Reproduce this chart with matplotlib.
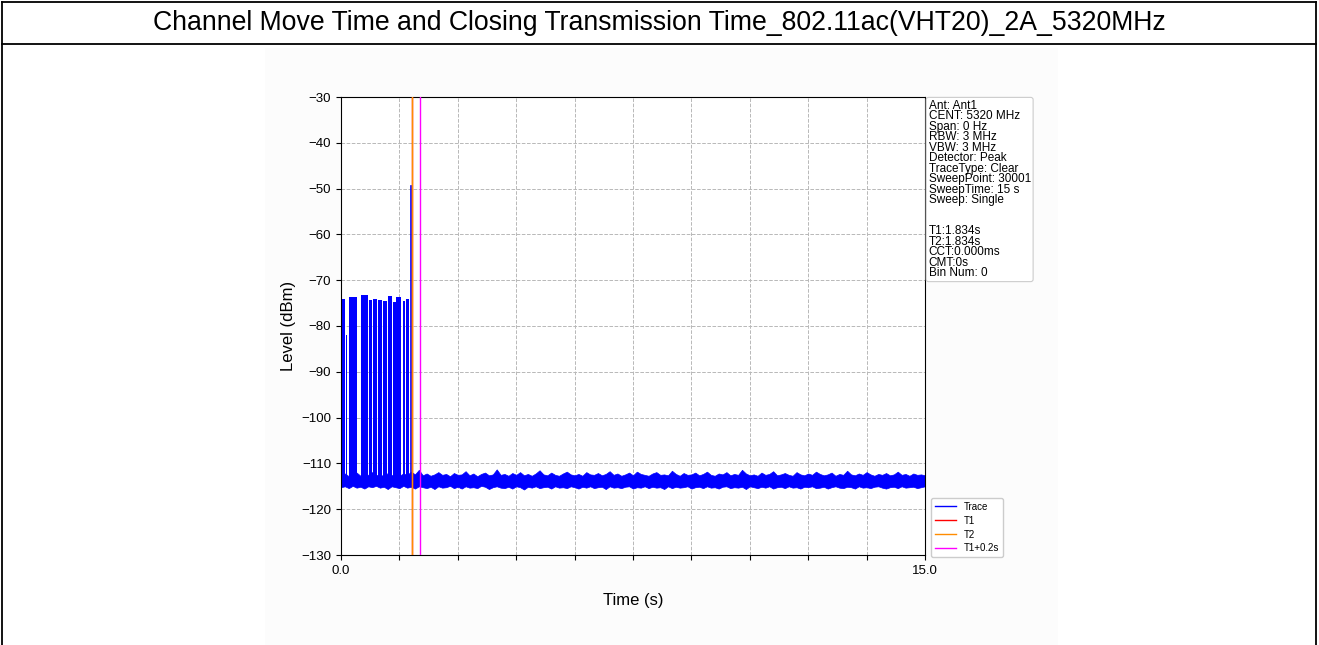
import matplotlib.pyplot as plt
import numpy as np
from matplotlib.lines import Line2D
from matplotlib.patches import Rectangle

plt.rcParams['font.family'] = ['Liberation Sans', 'DejaVu Sans']

title = 'Channel Move Time and Closing Transmission Time_802.11ac(VHT20)_2A_5320MHz'

# burst packets before the channel move (s, dBm)
burst_start = [0.000, 0.128, 0.205, 0.514, 0.732, 0.822, 0.950, 1.079, 1.207, 1.336, 1.425, 1.580, 1.670]
burst_end = [0.110, 0.150, 0.411, 0.693, 0.796, 0.925, 1.053, 1.181, 1.310, 1.400, 1.541, 1.644, 1.747]
burst_top = [-74.0, -82.0, -73.7, -73.2, -74.3, -74.0, -74.4, -74.5, -73.5, -74.8, -73.6, -74.6, -74.0]

# last short burst before T1
spike_t = 1.80
spike_top = -49.5

# noise floor envelope, one sample every 0.1 s
noise_dt = 0.1
noise_high = [
    -112.6, -112.2, -112.8, -112.4, -112.0, -112.7, -112.3, -112.5, -111.9, -112.6,
    -112.4, -112.8, -112.1, -112.6, -112.3, -112.7, -112.2, -112.5, -111.8, -112.4,
    -111.4, -112.6, -112.2, -112.7, -112.4, -111.9, -112.5, -112.3, -112.8, -112.1,
    -112.5, -112.4, -111.7, -112.6, -112.2, -112.8, -112.3, -112.0, -112.6, -112.4,
    -111.3, -112.5, -112.3, -112.7, -112.1, -112.5, -111.9, -112.6, -112.3, -112.7,
    -112.2, -111.5, -112.4, -112.6, -112.0, -112.5, -112.7, -112.2, -111.8, -112.4,
    -112.6, -112.3, -112.7, -111.9, -112.4, -112.5, -112.1, -112.6, -112.3, -111.7,
    -112.5, -112.2, -112.7, -112.4, -112.0, -112.6, -111.8, -112.3, -112.5, -112.7,
    -112.2, -111.9, -112.5, -112.4, -112.6, -111.6, -112.3, -112.7, -112.1, -112.5,
    -112.4, -112.0, -112.6, -112.3, -111.8, -112.5, -112.7, -112.2, -112.4, -111.9,
    -112.6, -112.3, -112.5, -111.4, -112.2, -112.6, -112.4, -112.7, -112.0, -112.5,
    -112.3, -111.7, -112.6, -112.4, -112.1, -112.5, -112.7, -111.9, -112.4, -112.6,
    -112.2, -112.5, -111.8, -112.3, -112.6, -112.4, -112.0, -112.7, -112.3, -112.5,
    -111.6, -112.4, -112.6, -112.2, -112.5, -111.9, -112.4, -112.7, -112.3, -112.5,
    -112.1, -112.6, -112.4, -111.8, -112.5, -112.3, -112.7, -112.2, -112.5, -112.4,
    -112.6,
]
noise_low = [
    -115.2, -115.0, -115.4, -114.9, -115.3, -115.1, -115.5, -115.0, -115.2, -114.9,
    -115.3, -115.1, -115.6, -115.0, -115.2, -115.4, -114.9, -115.3, -115.1, -115.5,
    -115.0, -115.2, -115.4, -115.1, -115.6, -115.0, -115.3, -115.2, -114.9, -115.4,
    -115.1, -115.5, -115.0, -115.3, -115.2, -115.4, -114.9, -115.1, -115.6, -115.2,
    -115.0, -115.3, -115.4, -115.1, -115.5, -115.0, -115.2, -115.7, -115.1, -115.3,
    -115.0, -115.4, -115.2, -115.1, -115.5, -115.0, -115.3, -115.2, -115.4, -115.0,
    -115.2, -115.5, -115.1, -115.3, -115.0, -115.4, -115.2, -115.1, -115.6, -115.0,
    -115.3, -115.2, -115.4, -115.1, -115.0, -115.5, -115.2, -115.3, -115.0, -115.4,
    -115.1, -115.3, -115.2, -115.6, -115.0, -115.4, -115.1, -115.3, -115.2, -115.0,
    -115.5, -115.2, -115.1, -115.4, -115.0, -115.3, -115.2, -115.5, -115.1, -115.0,
    -115.4, -115.2, -115.3, -115.1, -115.6, -115.0, -115.2, -115.4, -115.1, -115.3,
    -115.0, -115.5, -115.2, -115.1, -115.4, -115.0, -115.3, -115.2, -115.5, -115.1,
    -115.2, -115.0, -115.4, -115.3, -115.1, -115.5, -115.2, -115.0, -115.3, -115.4,
    -115.1, -115.2, -115.5, -115.0, -115.3, -115.2, -115.4, -115.1, -115.0, -115.3,
    -115.5, -115.2, -115.1, -115.4, -115.0, -115.3, -115.2, -115.1, -115.4, -115.2,
    -115.0,
]

t1 = 1.834
t2 = 1.834
t1_02 = t1 + 0.2

info_text = ('Ant: Ant1\nCENT: 5320 MHz\nSpan: 0 Hz\nRBW: 3 MHz\nVBW: 3 MHz\n'
             'Detector: Peak\nTraceType: Clear\nSweepPoint: 30001\nSweepTime: 15 s\n'
             'Sweep: Single\n\n\nT1:1.834s\nT2:1.834s\nCCT:0.000ms\nCMT:0s\nBin Num: 0')

fig = plt.figure(figsize=(13.19, 6.45), dpi=100)

# embedded chart picture background and table frame
fig.patches.append(Rectangle((265 / 1319, 0), 793 / 1319, 597 / 645, transform=fig.transFigure,
                             facecolor='#fcfcfc', edgecolor='none', zorder=-5))
for xx in [2 / 1319, 1316 / 1319]:
    fig.add_artist(Line2D([xx, xx], [0, 1 - 2 / 645], color='black', lw=1.3))
for yy in [1 - 2 / 645, 1 - 44 / 645]:
    fig.add_artist(Line2D([2 / 1319, 1316 / 1319], [yy, yy], color='black', lw=1.3))
fig.text(0.5, 1 - 23 / 645, title, ha='center', va='center', fontsize=19.2)

ax = fig.add_axes([341 / 1319, 1 - 555 / 645, 584 / 1319, 458 / 645], zorder=2)
ax.set_facecolor('white')

noise_t = np.arange(len(noise_high)) * noise_dt
ax.fill_between(noise_t, noise_low, noise_high, color='blue', lw=0.5, zorder=2)
for s, e, top in zip(burst_start, burst_end, burst_top):
    ax.fill_between([s, e], [-115.0, -115.0], [top, top], color='blue', lw=0, zorder=2)
ax.plot([spike_t, spike_t], [-113.0, spike_top], color='blue', lw=1.2, zorder=2)

ax.axvline(t1, color='red', lw=1, zorder=3)
ax.axvline(t2, color='darkorange', lw=1, zorder=3)
ax.axvline(t1_02, color='magenta', lw=1, zorder=3)

ax.set_xlim(0, 15)
ax.set_ylim(-130, -30)
xt = np.arange(11) * 1.5
ax.set_xticks(xt)
ax.set_xticklabels(['0.0'] + [''] * 9 + ['15.0'])
ax.set_yticks(np.arange(-130, -29, 10))
ax.tick_params(labelsize=9.5)
ax.grid(True, ls='--', color='#b8b8b8', lw=0.7)
ax.set_axisbelow(True)
ax.set_xlabel('Time (s)', fontsize=12, labelpad=12)
ax.set_ylabel('Level (dBm)', fontsize=12)

handles = [Line2D([], [], color='blue', lw=1), Line2D([], [], color='red', lw=1),
           Line2D([], [], color='darkorange', lw=1), Line2D([], [], color='magenta', lw=1)]
ax.legend(handles, ['Trace', 'T1', 'T2', 'T1+0.2s'], loc='lower left', bbox_to_anchor=(1.01, -0.005),
          borderaxespad=0, fontsize=7, handlelength=2.2, labelspacing=0.4, framealpha=1)

ax.text(1.006, 0.994, info_text, transform=ax.transAxes, ha='left', va='top', fontsize=8.5,
        linespacing=0.83,
        bbox=dict(boxstyle='round,pad=0.2', facecolor='white', edgecolor='#cccccc', lw=0.8))

plt.savefig('out.png', dpi=100)
